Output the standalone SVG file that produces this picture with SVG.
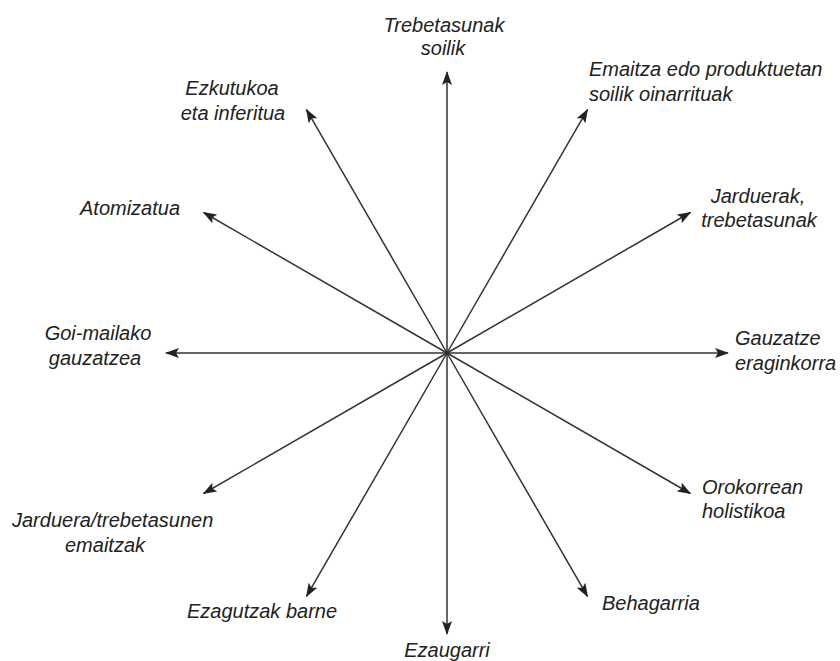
<svg xmlns="http://www.w3.org/2000/svg" width="840" height="661" viewBox="0 0 840 661">
<style>
.lbl{font-family:"Liberation Sans",Arial,sans-serif;font-style:italic;font-size:20px;fill:#222}
.ar{stroke:#333;stroke-width:1.5;fill:none;marker-end:url(#ah)}
</style>
<defs>
<marker id="ah" viewBox="0 0 14 10" refX="13" refY="5" markerWidth="14" markerHeight="10" markerUnits="userSpaceOnUse" orient="auto">
<path d="M0,0 L14,5 L0,10 L3,5 Z" fill="#222"/>
</marker>
</defs>
<rect width="840" height="661" fill="#fff"/>
<g id="connectors">
<line class="ar" x1="447" y1="353" x2="728" y2="353"/>
<line class="ar" x1="447" y1="353" x2="690.4" y2="212.5"/>
<line class="ar" x1="447" y1="353" x2="587.5" y2="109.6"/>
<line class="ar" x1="447" y1="353" x2="447" y2="72"/>
<line class="ar" x1="447" y1="353" x2="306.5" y2="109.6"/>
<line class="ar" x1="447" y1="353" x2="203.6" y2="212.5"/>
<line class="ar" x1="447" y1="353" x2="166" y2="353"/>
<line class="ar" x1="447" y1="353" x2="203.6" y2="493.5"/>
<line class="ar" x1="447" y1="353" x2="306.5" y2="596.4"/>
<line class="ar" x1="447" y1="353" x2="447" y2="634"/>
<line class="ar" x1="447" y1="353" x2="587.5" y2="596.4"/>
<line class="ar" x1="447" y1="353" x2="690.4" y2="493.5"/>
</g>
<g id="n-trebetasunak"><text class="lbl" x="444" y="32" text-anchor="middle">Trebetasunak</text><text class="lbl" x="443" y="55" text-anchor="middle">soilik</text></g>
<g id="n-emaitza"><text class="lbl" x="589" y="76">Emaitza edo produktuetan</text><text class="lbl" x="589" y="101">soilik oinarrituak</text></g>
<g id="n-jarduerak"><text class="lbl" x="758" y="203" text-anchor="middle">Jarduerak,</text><text class="lbl" x="759" y="227" text-anchor="middle">trebetasunak</text></g>
<g id="n-gauzatze"><text class="lbl" x="735" y="345">Gauzatze</text><text class="lbl" x="735" y="370">eraginkorra</text></g>
<g id="n-orokorrean"><text class="lbl" x="702" y="494">Orokorrean</text><text class="lbl" x="702" y="518">holistikoa</text></g>
<g id="n-behagarria"><text class="lbl" x="602" y="610">Behagarria</text></g>
<g id="n-ezaugarri"><text class="lbl" x="447" y="657" text-anchor="middle">Ezaugarri</text></g>
<g id="n-ezagutzak"><text class="lbl" x="262" y="618" text-anchor="middle">Ezagutzak barne</text></g>
<g id="n-jarduera"><text class="lbl" x="12" y="527">Jarduera/trebetasunen</text><text class="lbl" x="105" y="552" text-anchor="middle">emaitzak</text></g>
<g id="n-goimailako"><text class="lbl" x="98" y="340" text-anchor="middle">Goi-mailako</text><text class="lbl" x="95" y="365" text-anchor="middle">gauzatzea</text></g>
<g id="n-atomizatua"><text class="lbl" x="80" y="215">Atomizatua</text></g>
<g id="n-ezkutukoa"><text class="lbl" x="232" y="95" text-anchor="middle">Ezkutukoa</text><text class="lbl" x="233" y="120" text-anchor="middle">eta inferitua</text></g>
</svg>
